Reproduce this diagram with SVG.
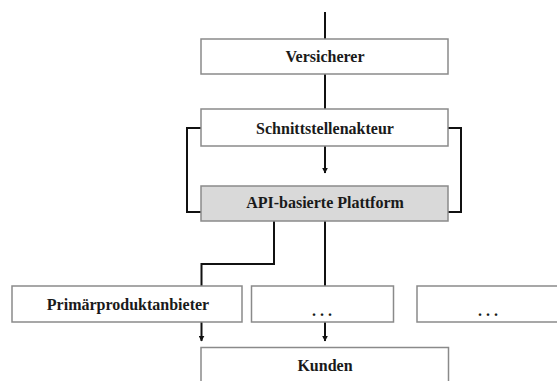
<svg xmlns="http://www.w3.org/2000/svg" width="557" height="381" viewBox="0 0 557 381">
<defs>
<marker id="arr" viewBox="0 0 10 10" refX="9" refY="5" markerWidth="3" markerHeight="3" orient="auto" markerUnits="strokeWidth">
<path d="M0,0 L10,5 L0,10 z" fill="#111"/>
</marker>
<style>
.box{fill:#fff;stroke:#8a8a8a;stroke-width:1.5}
.gray{fill:#d9d9d9}
.t{font-family:"Liberation Serif","Times New Roman",serif;font-weight:bold;font-size:16px;fill:#1a1a1a;text-anchor:middle}
.c{fill:none;stroke:#111;stroke-width:2}
</style>
</defs>
<rect width="557" height="381" fill="#fff"/>
<g id="connectors">
<path class="c" d="M325,12 V39"/>
<path class="c" d="M325,74 V109"/>
<path class="c" d="M325,146 V173" marker-end="url(#arr)"/>
<path class="c" d="M201,128 H187 V212 H201"/>
<path class="c" d="M448,128 H461 V212 H448"/>
<path class="c" d="M274,221 V264 H201.5 V286"/>
<path class="c" d="M325,221 V286"/>
<path class="c" d="M201.5,322 V341" marker-end="url(#arr)"/>
<path class="c" d="M325,322 V341" marker-end="url(#arr)"/>
</g>
<g id="versicherer">
<rect class="box" x="201" y="39" width="247" height="35"/>
<text class="t" x="325" y="62">Versicherer</text>
</g>
<g id="schnittstellenakteur">
<rect class="box" x="201" y="109" width="247" height="37"/>
<text class="t" x="325" y="134">Schnittstellenakteur</text>
</g>
<g id="plattform">
<rect class="box gray" x="201" y="186" width="247" height="35"/>
<text class="t" x="325" y="208">API-basierte Plattform</text>
</g>
<g id="primaer">
<rect class="box" x="12" y="286" width="230" height="36"/>
<text class="t" x="128" y="310">Primärproduktanbieter</text>
</g>
<g id="dots1">
<rect class="box" x="251.5" y="286" width="142" height="36"/>
<text class="t" x="322" y="316">. . .</text>
</g>
<g id="dots2">
<rect class="box" x="417" y="286" width="145" height="36"/>
<text class="t" x="488" y="316">. . .</text>
</g>
<g id="kunden">
<rect class="box" x="201" y="347.5" width="247.5" height="40"/>
<text class="t" x="325" y="371">Kunden</text>
</g>
</svg>
